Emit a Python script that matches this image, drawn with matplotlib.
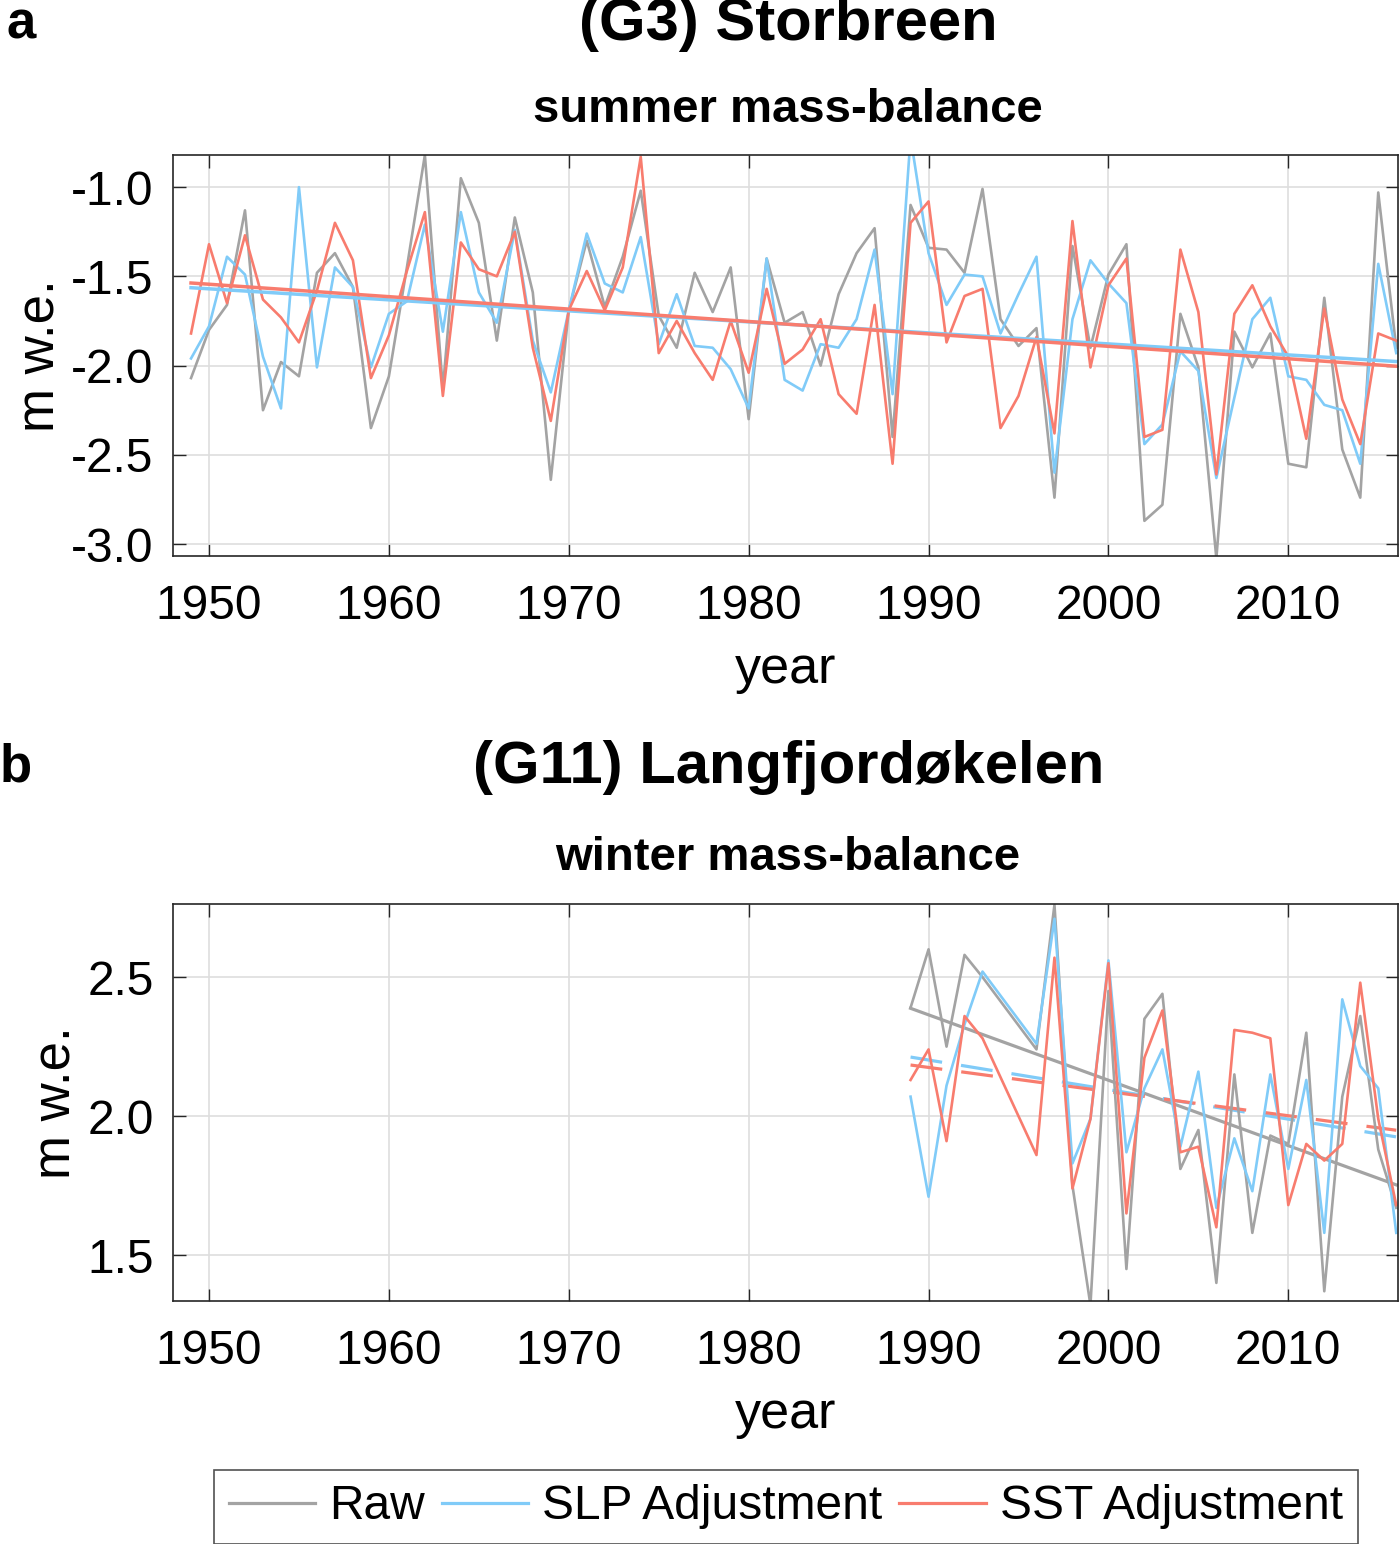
import numpy as np
import matplotlib
matplotlib.use("Agg")
import matplotlib.pyplot as plt

plt.rcParams['font.family'] = ['Liberation Sans', 'DejaVu Sans']
plt.rcParams['axes.unicode_minus'] = False

# (G3) Storbreen, summer mass-balance, 1949-2016
years_a = list(range(1949, 2017))
raw_a = [-2.07, -1.80, -1.66, -1.13, -2.25, -1.98, -2.06, -1.48, -1.37, -1.56,
         -2.35, -2.06, -1.45, -0.82, -2.13, -0.95, -1.20, -1.86, -1.17, -1.59,
         -2.64, -1.69, -1.30, -1.67, -1.39, -1.02, -1.72, -1.90, -1.48, -1.70,
         -1.45, -2.30, -1.40, -1.76, -1.70, -2.00, -1.60, -1.37, -1.23, -2.40,
         -1.10, -1.34, -1.35, -1.48, -1.01, -1.74, -1.89, -1.79, -2.74, -1.33,
         -1.90, -1.49, -1.32, -2.87, -2.78, -1.71, -2.01, -3.08, -1.81, -2.01,
         -1.82, -2.55, -2.57, -1.62, -2.47, -2.74, -1.03, -1.90]
slp_a = [-1.96, -1.78, -1.39, -1.49, -1.95, -2.24, -1.00, -2.01, -1.45, -1.56,
         -2.01, -1.71, -1.64, -1.21, -1.81, -1.14, -1.59, -1.76, -1.24, -1.86,
         -2.15, -1.69, -1.26, -1.54, -1.59, -1.28, -1.88, -1.60, -1.89, -1.90,
         -2.02, -2.24, -1.40, -2.08, -2.14, -1.88, -1.90, -1.74, -1.35, -2.16,
         -0.72, -1.37, -1.66, -1.49, -1.50, -1.82, -1.60, -1.39, -2.60, -1.74,
         -1.41, -1.54, -1.65, -2.44, -2.33, -1.92, -2.03, -2.63, -2.18, -1.74,
         -1.62, -2.06, -2.08, -2.22, -2.25, -2.55, -1.43, -1.93]
sst_a = [-1.82, -1.32, -1.65, -1.27, -1.63, -1.73, -1.87, -1.58, -1.20, -1.41,
         -2.07, -1.83, -1.47, -1.14, -2.17, -1.31, -1.46, -1.50, -1.25, -1.90,
         -2.31, -1.69, -1.47, -1.69, -1.45, -0.83, -1.93, -1.75, -1.93, -2.08,
         -1.75, -2.04, -1.57, -1.99, -1.91, -1.74, -2.16, -2.27, -1.66, -2.55,
         -1.20, -1.08, -1.87, -1.61, -1.57, -2.35, -2.17, -1.84, -2.38, -1.19,
         -2.01, -1.55, -1.40, -2.40, -2.36, -1.35, -1.70, -2.61, -1.71, -1.55,
         -1.78, -1.95, -2.41, -1.68, -2.19, -2.44, -1.82, -1.86]

# (G11) Langfjordøkelen, winter mass-balance (no data 1994-1995)
years_b = [1989, 1990, 1991, 1992, 1993, 1996, 1997, 1998, 1999, 2000, 2001,
           2002, 2003, 2004, 2005, 2006, 2007, 2008, 2009, 2010, 2011, 2012,
           2013, 2014, 2015, 2016]
raw_b = [2.39, 2.60, 2.25, 2.58, 2.50, 2.24, 2.76, 1.75, 1.32, 2.45, 1.45,
         2.35, 2.44, 1.81, 1.95, 1.40, 2.15, 1.58, 1.93, 1.90, 2.30, 1.37,
         2.07, 2.36, 1.88, 1.67]
slp_b = [2.07, 1.71, 2.11, 2.33, 2.52, 2.26, 2.71, 1.83, 1.99, 2.56, 1.87,
         2.10, 2.24, 1.89, 2.16, 1.67, 1.92, 1.73, 2.15, 1.81, 2.13, 1.58,
         2.42, 2.18, 2.10, 1.58]
sst_b = [2.13, 2.24, 1.91, 2.36, 2.28, 1.86, 2.57, 1.74, 1.99, 2.55, 1.65,
         2.21, 2.38, 1.87, 1.89, 1.60, 2.31, 2.30, 2.28, 1.68, 1.90, 1.84,
         1.90, 2.48, 1.99, 1.68]

c_raw = '#a3a3a3'
c_slp = '#80cbf8'
c_sst = '#f87c6e'

fig = plt.figure(figsize=(14, 15.44), dpi=100)
ax1 = fig.add_axes([0.1236, 0.6399, 0.875, 0.2597])
ax2 = fig.add_axes([0.1236, 0.1574, 0.875, 0.2571])


def trend(x, y):
    x = np.asarray(x, float)
    p = np.polyfit(x, y, 1)
    return x, np.polyval(p, x)


def style(ax, ylim, yticks):
    ax.set_xlim(1948, 2016.1)
    ax.set_ylim(*ylim)
    ax.set_xticks(range(1950, 2011, 10))
    ax.set_yticks(yticks)
    ax.set_yticklabels(['%.1f' % v for v in yticks])
    ax.grid(True, color='#dedede', linewidth=1.2)
    ax.set_axisbelow(True)
    ax.tick_params(direction='in', length=9, width=1, labelsize=34.5,
                   top=True, right=True, colors='#262626', labelcolor='black')
    ax.tick_params(axis='x', pad=20)
    ax.tick_params(axis='y', pad=14)
    for s in ax.spines.values():
        s.set_color('#262626')
        s.set_linewidth(1.2)
    ax.set_xlabel('year', fontsize=37.5, labelpad=12)
    ax.set_ylabel('m w.e.', fontsize=38, labelpad=4)


lw = 1.9
# panel a
ax1.plot(years_a, raw_a, color=c_raw, lw=lw, label='Raw')
ax1.plot(years_a, slp_a, color=c_slp, lw=lw, label='SLP Adjustment')
ax1.plot(years_a, sst_a, color=c_sst, lw=lw, label='SST Adjustment')
ax1.plot(*trend(years_a, slp_a), color=c_slp, lw=2.5)
ax1.plot(*trend(years_a, sst_a), color=c_sst, lw=2.5)
style(ax1, (-3.067, -0.82), [-3.0, -2.5, -2.0, -1.5, -1.0])

# panel b
ax2.plot(*trend(years_b, raw_b), color=c_raw, lw=2.3)
ax2.plot(*trend(years_b, slp_b), color=c_slp, lw=2.3, dashes=(10, 6))
ax2.plot(*trend(years_b, sst_b), color=c_sst, lw=2.3, dashes=(10, 6))
ax2.plot(years_b, raw_b, color=c_raw, lw=lw)
ax2.plot(years_b, slp_b, color=c_slp, lw=lw)
ax2.plot(years_b, sst_b, color=c_sst, lw=lw)
style(ax2, (1.335, 2.763), [1.5, 2.0, 2.5])

# titles and panel letters
fig.text(0.563, 0.984, '(G3) Storbreen', ha='center', va='center',
         fontsize=43, fontweight='bold')
fig.text(0.563, 0.929, 'summer mass-balance', ha='center', va='center',
         fontsize=34, fontweight='bold')
fig.text(0.563, 0.5026, '(G11) Langfjordøkelen', ha='center', va='center',
         fontsize=43, fontweight='bold')
fig.text(0.563, 0.4443, 'winter mass-balance', ha='center', va='center',
         fontsize=34, fontweight='bold')
fig.text(0.005, 0.984, 'a', ha='left', va='center', fontsize=38, fontweight='bold')
fig.text(0.0, 0.5026, 'b', ha='left', va='center', fontsize=38, fontweight='bold')

leg = fig.legend(*ax1.get_legend_handles_labels(), loc='center',
                 bbox_to_anchor=(0.5614, 0.024), ncol=3, fontsize=34.5,
                 frameon=True, fancybox=False, edgecolor='#262626',
                 handlelength=1.8, handletextpad=0.3, columnspacing=0.35,
                 borderpad=0.3, borderaxespad=0)
leg.get_frame().set_linewidth(1.2)
for h in leg.get_lines():
    h.set_linewidth(2.3)

fig.savefig('out.png', dpi=100)
